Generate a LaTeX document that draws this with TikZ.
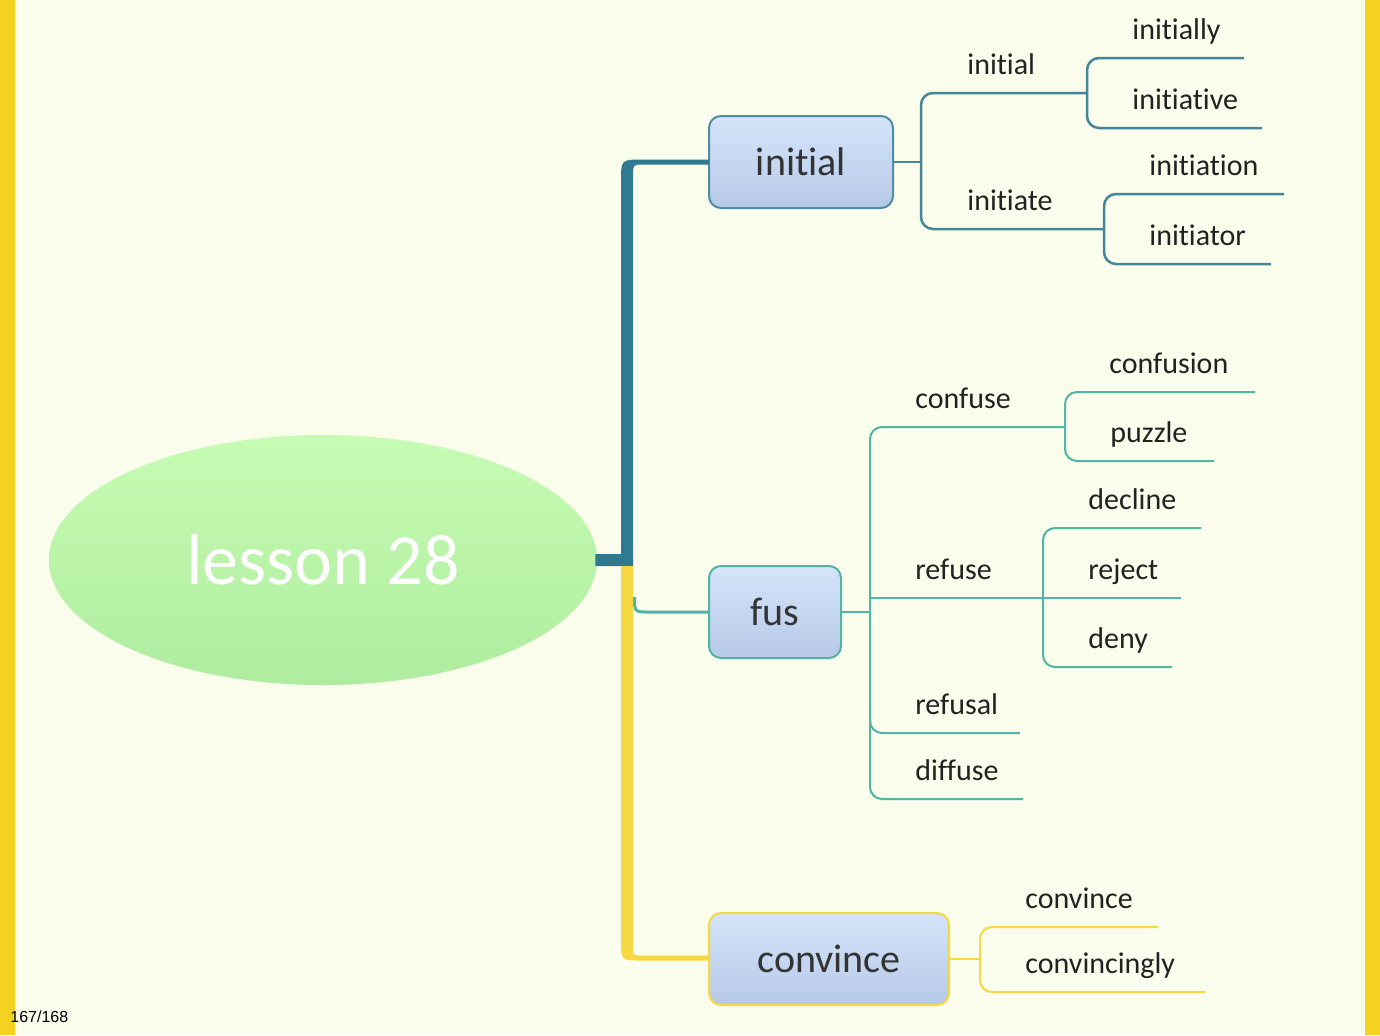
\documentclass[tikz,border=0pt]{standalone}
\usepackage{fontspec}
\setmainfont{Carlito}[Ligatures={NoCommon,NoContextual}]
\newfontfamily\pagefont{Liberation Sans}
\usetikzlibrary{calc,shapes.geometric}

\definecolor{paper}{HTML}{FAFCEC}
\definecolor{bar}{HTML}{F5D222}
\definecolor{deep}{HTML}{2F7A90}
\definecolor{sea}{HTML}{52B4A5}
\definecolor{gold}{HTML}{F6D940}
\definecolor{boxtop}{HTML}{D4E4FA}
\definecolor{boxbot}{HTML}{B6C9E7}
\definecolor{leaftext}{HTML}{222222}
\definecolor{lawntop}{HTML}{C6FCB3}
\definecolor{lawnbot}{HTML}{AFEC9F}

\tikzset{
  topic/.style={draw, rounded corners=6pt, line width=1pt, top color=boxtop,
    bottom color=boxbot, minimum height=46pt, text=black!80,
    font=\fontsize{20}{24}\selectfont},
  leaf/.style={anchor=base west, inner sep=0pt, text=leaftext,
    font=\fontsize{15}{18}\selectfont},
  twig/.style={rounded corners=6pt},
  iniline/.style={draw=deep!90, line width=1.25pt},
  fusline/.style={draw=sea, line width=1pt},
  conline/.style={draw=gold, line width=1pt},
}

\begin{document}
\begin{tikzpicture}[x=0.5pt,y=-0.5pt]
  \fill[paper] (0,0) rectangle (1380,1035);
  \useasboundingbox (0,0) rectangle (1380,1035);
  \fill[bar] (0,0) rectangle (15,1035);
  \fill[bar] (1365,0) rectangle (1380,1035);
  \node[anchor=base west, inner sep=0pt, font=\pagefont\fontsize{8}{9}\selectfont] (page) at (10,1022) {167/168};

  % main topics
  \node[ellipse, minimum width=274pt, minimum height=125pt, top color=lawntop, bottom color=lawnbot,
    text=white, font=\fontsize{36}{40}\selectfont] (lesson) at (323,560) {lesson 28};
  \node[topic, draw=deep!85, minimum width=92pt] (ini) at (801,162) {initial};
  \node[topic, draw=sea, minimum width=66pt] (fus) at (775,612) {fus};
  \node[topic, draw=gold, minimum width=120pt] (conv) at (829,959) {convince};

  % trunks
  \fill[deep] ($(lesson.east)+(-2,-6)$) -- (621,554) -- (621,182) .. controls (621,159.5) .. (643,159.5)
    -- ($(ini.west)+(1,-2.5)$) -- ($(ini.west)+(1,2.5)$) -- (643,164.5) .. controls (633,164.5) .. (633,176)
    -- (633,566) -- ($(lesson.east)+(-2,6)$) -- cycle;
  \fill[gold] (621,566) -- (621,940) .. controls (621,960.5) .. (641,960.5)
    -- ($(conv.west)+(1,1.5)$) -- ($(conv.west)+(1,-3.5)$) -- (641,955.5) .. controls (633,955.5) .. (633,947)
    -- (633,566) -- cycle;
  \draw[fusline, line width=1.5pt] (634.5,597) .. controls (634.5,612) .. (649,612) -- (fus.west);

  % initial
  \coordinate (iniFork) at (921,162);
  \coordinate (initialEnd) at (1087,93);
  \coordinate (initiateEnd) at (1104,229);
  \coordinate (initiallyEnd) at (1244,58);
  \coordinate (initiativeEnd) at (1262,128);
  \coordinate (initiationEnd) at (1284,194);
  \coordinate (initiatorEnd) at (1271,264);
  \draw[iniline] (ini.east) -- (iniFork);
  \draw[iniline, twig] (initialEnd) -| (iniFork |- initiateEnd) -- (initiateEnd);
  \draw[iniline, twig] (initiallyEnd) -| (initialEnd |- initiativeEnd) -- (initiativeEnd);
  \draw[iniline, twig] (initiationEnd) -| (initiateEnd |- initiatorEnd) -- (initiatorEnd);
  \node[leaf] (initialW) at (967,74) {initial};
  \node[leaf] (initiateW) at (967,210) {initiate};
  \node[leaf] (initiallyW) at (1132,39) {initially};
  \node[leaf] (initiativeW) at (1132,109) {initiative};
  \node[leaf] (initiationW) at (1149,175) {initiation};
  \node[leaf] (initiatorW) at (1149,245) {initiator};

  % fus
  \coordinate (fusFork) at (870,612);
  \coordinate (confuseEnd) at (1065,427);
  \coordinate (refuseEnd) at (1181,598);
  \coordinate (refusalEnd) at (1020,733);
  \coordinate (diffuseEnd) at (1023,799);
  \coordinate (confusionEnd) at (1255,392);
  \coordinate (puzzleEnd) at (1214,461);
  \coordinate (declineEnd) at (1201,528);
  \coordinate (denyEnd) at (1172,667);
  \coordinate (refuseFork) at (1043,598);
  \draw[fusline] (fus.east) -- (fusFork);
  \draw[fusline, twig] (confuseEnd) -| (fusFork |- diffuseEnd) -- (diffuseEnd);
  \draw[fusline] (fusFork |- refuseEnd) -- (refuseEnd);
  \draw[fusline, twig] ($(fusFork |- refusalEnd)+(0,-30)$) |- (refusalEnd);
  \draw[fusline, twig] (confusionEnd) -| (confuseEnd |- puzzleEnd) -- (puzzleEnd);
  \draw[fusline, twig] (declineEnd) -| (refuseFork |- denyEnd) -- (denyEnd);
  \node[leaf] (confuseW) at (915,408) {confuse};
  \node[leaf] (refuseW) at (915,579) {refuse};
  \node[leaf] (refusalW) at (915,714) {refusal};
  \node[leaf] (diffuseW) at (915,780) {diffuse};
  \node[leaf] (confusionW) at (1109,373) {confusion};
  \node[leaf] (puzzleW) at (1110,442) {puzzle};
  \node[leaf] (declineW) at (1088,509) {decline};
  \node[leaf] (rejectW) at (1088,579) {reject};
  \node[leaf] (denyW) at (1088,648) {deny};

  % convince
  \coordinate (conFork) at (980,959);
  \coordinate (convinceEnd) at (1158,927);
  \coordinate (convincinglyEnd) at (1205,992);
  \draw[conline] (conv.east) -- (conFork);
  \draw[conline, twig] (convinceEnd) -| (conFork |- convincinglyEnd) -- (convincinglyEnd);
  \node[leaf] (convinceW) at (1025,908) {convince};
  \node[leaf] (convincinglyW) at (1025,973) {convincingly};
\end{tikzpicture}
\end{document}
